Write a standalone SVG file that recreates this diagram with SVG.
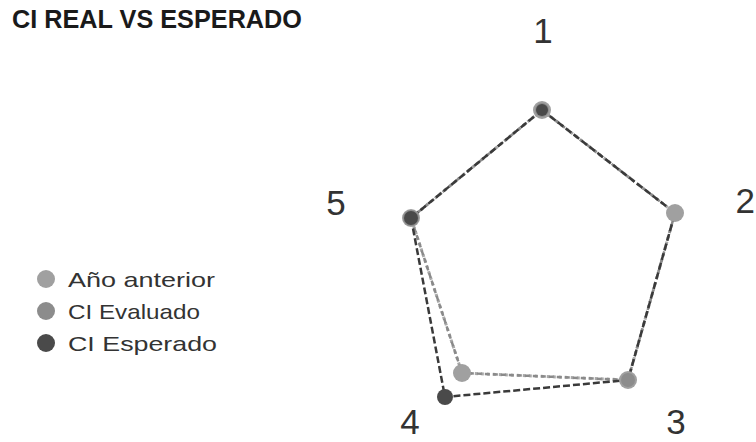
<svg xmlns="http://www.w3.org/2000/svg" width="756" height="442" viewBox="0 0 756 442">
<style>
.title{font-family:"Liberation Sans",Arial,sans-serif;font-weight:bold;font-size:25px;fill:#1a1a1a}
.leg{font-family:"Liberation Sans",Arial,sans-serif;font-size:21px;fill:#333}
.axis{font-family:"Liberation Sans",Arial,sans-serif;font-size:35px;fill:#333;text-anchor:middle}
.s-ant{fill:none;stroke:#a8a8a8;stroke-width:3;stroke-dasharray:3 3}
.s-eva{fill:none;stroke:#8a8a8a;stroke-width:2.5;stroke-dasharray:5 3}
.s-esp{fill:none;stroke:#3a3a3a;stroke-width:2.5;stroke-dasharray:7 3}
.m-ant{fill:#a0a0a0}
.m-eva{fill:#8c8c8c}
.m-esp{fill:#4a4a4a}
</style>
<rect width="756" height="442" fill="#fff"/>
<text class="title" x="12" y="28" textLength="290" lengthAdjust="spacingAndGlyphs">CI REAL VS ESPERADO</text>
<g id="axis-labels">
<text class="axis" x="543" y="43">1</text>
<text class="axis" x="755" y="213" style="text-anchor:end">2</text>
<text class="axis" x="676" y="434">3</text>
<text class="axis" x="410" y="434">4</text>
<text class="axis" x="336" y="215">5</text>
</g>
<g id="connectors">
<polygon class="s-ant" points="542,110 675,213 628,380 462,373 411,218"/>
<polygon class="s-eva" points="542,110 675,213 628,380 462,373 411,218"/>
<polygon class="s-esp" points="542,110 675,213 628,380 445,397 411,218"/>
</g>
<g id="series-ano-anterior">
<circle class="m-ant" cx="542" cy="110" r="9"/>
<circle class="m-ant" cx="675" cy="213" r="9"/>
<circle class="m-ant" cx="628" cy="380" r="9"/>
<circle class="m-ant" cx="462" cy="373" r="9"/>
<circle class="m-ant" cx="411" cy="218" r="9"/>
</g>
<g id="series-ci-evaluado">
<circle class="m-eva" cx="542" cy="110" r="7"/>
<circle class="m-eva" cx="628" cy="380" r="7"/>
<circle class="m-eva" cx="411" cy="218" r="8"/>
</g>
<g id="series-ci-esperado">
<circle class="m-esp" cx="542" cy="110" r="6"/>
<circle class="m-esp" cx="445" cy="397" r="8"/>
<circle class="m-esp" cx="411" cy="218" r="7"/>
</g>
<g id="legend">
<circle class="m-ant" cx="46" cy="279" r="9"/>
<text class="leg" x="68" y="287" textLength="147" lengthAdjust="spacingAndGlyphs">Año anterior</text>
<circle class="m-eva" cx="46" cy="311" r="9"/>
<text class="leg" x="68" y="319" textLength="132" lengthAdjust="spacingAndGlyphs">CI Evaluado</text>
<circle class="m-esp" cx="46" cy="343" r="9"/>
<text class="leg" x="68" y="351" textLength="149" lengthAdjust="spacingAndGlyphs">CI Esperado</text>
</g>
</svg>
